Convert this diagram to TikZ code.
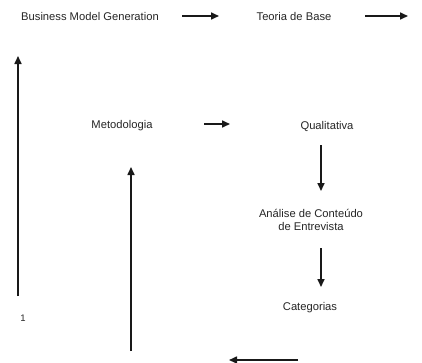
\documentclass[tikz,border=0pt]{standalone}
\usepackage{fontspec}
\setmainfont{Liberation Sans}
\usetikzlibrary{arrows.meta}
\begin{document}
\begin{tikzpicture}[x=1pt,y=-1pt,
  lbl/.style={inner sep=0pt,font=\fontsize{11.2}{13.5}\selectfont,align=center,text=black!85},
  arr/.style={line width=1.6pt,-{Triangle[length=8pt,width=7pt]},black!90}]
\useasboundingbox[fill=white] (0,0) rectangle (422,362);
\node[lbl] (bmg) at (90,16) {Business Model Generation};
\node[lbl] (teoria) at (294,16) {Teoria de Base};
\node[lbl] (met) at (122,126) {Metodologia};
\node[lbl] (qual) at (327,126) {Qualitativa};
\node[lbl] (ana) at (311,220) {Análise de Conteúdo\\de Entrevista};
\node[lbl] (cat) at (310,308) {Categorias};
\node[lbl] (one) at (23,318) {\fontsize{9.5}{10}\selectfont 1};
\coordinate (a1s) at (182,16); \coordinate (a1e) at (219,16);
\coordinate (a2s) at (365,16); \coordinate (a2e) at (408,16);
\coordinate (l1s) at (18,296); \coordinate (l1e) at (18,56);
\coordinate (m1s) at (204,124); \coordinate (m1e) at (230,124);
\coordinate (q1s) at (321,145); \coordinate (q1e) at (321,191);
\coordinate (c1s) at (321,248); \coordinate (c1e) at (321,287);
\coordinate (b1s) at (298,360); \coordinate (b1e) at (229,360);
\coordinate (v1s) at (131,351); \coordinate (v1e) at (131,167);
\draw[arr] (a1s) -- (a1e);
\draw[arr] (a2s) -- (a2e);
\draw[arr] (l1s) -- (l1e);
\draw[arr] (m1s) -- (m1e);
\draw[arr] (q1s) -- (q1e);
\draw[arr] (c1s) -- (c1e);
\draw[arr] (b1s) -- (b1e);
\draw[arr] (v1s) -- (v1e);
\end{tikzpicture}
\end{document}
